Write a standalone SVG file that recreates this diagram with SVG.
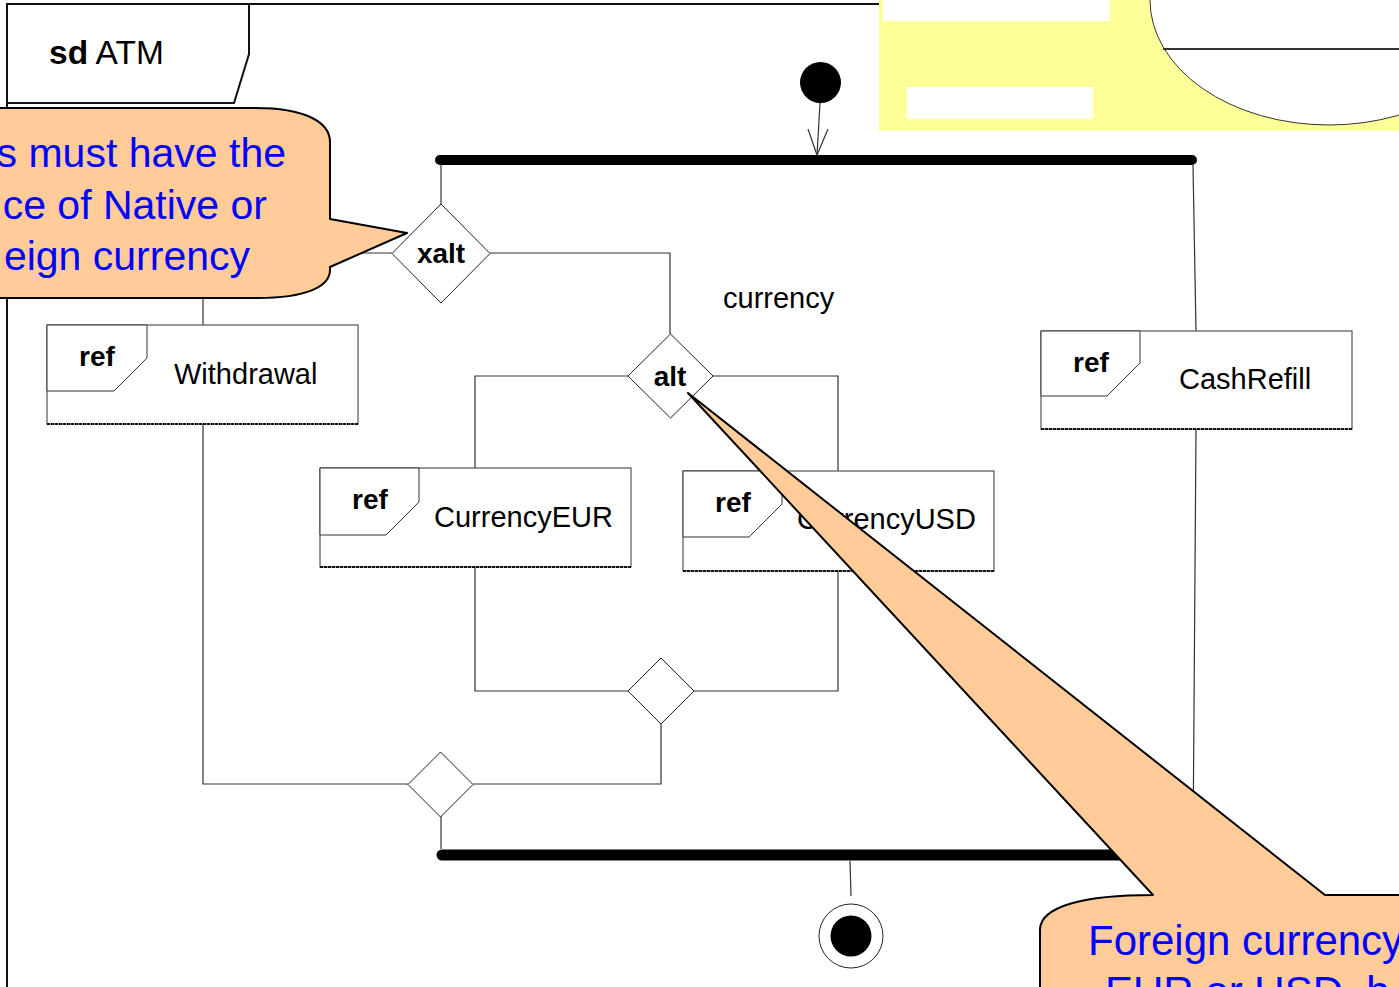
<svg xmlns="http://www.w3.org/2000/svg" width="1399" height="987" viewBox="0 0 1399 987">
<style>
text{font-family:"Liberation Sans",Arial,sans-serif}
.conn{fill:none;stroke:#333;stroke-width:1.2}
.box{fill:#fff;stroke:#555;stroke-width:1.2}
.tab{fill:#fff;stroke:#333;stroke-width:1}
.dash{stroke:#111;stroke-width:2;stroke-dasharray:3 1}
.kw{font-size:28px;font-weight:bold;fill:#000}
.name{font-size:29px;fill:#000}
.dia{fill:#fff;stroke:#222;stroke-width:1}
.bar{stroke:#000;stroke-linecap:round}
.note{fill:#FFCC99;stroke:#000;stroke-width:2;stroke-linejoin:round}
.ntext{font-size:41px;fill:#0000FF}
</style>
<rect width="1399" height="987" fill="#fff"/>
<g id="frame">
<path d="M7,987 V4 H880" fill="none" stroke="#111" stroke-width="2"/>
<path d="M7,4 H249 V54 L234,103 H7 Z" fill="#fff" stroke="#111" stroke-width="2"/>
<text x="49" y="64" style="font-size:33.5px"><tspan font-weight="bold">sd</tspan> ATM</text>
</g>
<g id="yellow-fragment">
<rect x="879" y="0" width="520" height="131" fill="#FFFF99"/>
<rect x="883" y="0" width="227" height="21" fill="#fff"/>
<rect x="907" y="87" width="186" height="32" fill="#fff"/>
<ellipse cx="1329" cy="0" rx="179" ry="125" fill="#fff" stroke="#333" stroke-width="1"/>
<line x1="1163" y1="49" x2="1399" y2="49" stroke="#333" stroke-width="2"/>
</g>
<g id="connectors">
<line class="conn" x1="820" y1="103" x2="817" y2="155"/>
<polyline class="conn" points="808,129 817,155 828,129"/>
<polyline class="conn" points="441,165 441,204"/>
<polyline class="conn" points="1193,165 1196,331"/>
<polyline class="conn" points="490,253 670,253 670,334"/>
<polyline class="conn" points="392,253 203,253 203,325"/>
<polyline class="conn" points="628,376 475,376 475,468"/>
<polyline class="conn" points="713,376 838,376 838,471"/>
<polyline class="conn" points="475,567 475,691 628,691"/>
<polyline class="conn" points="838,571 838,691 694,691"/>
<polyline class="conn" points="661,724 661,784 473,784"/>
<polyline class="conn" points="203,424 203,784 408,784"/>
<polyline class="conn" points="441,810 441,849"/>
<polyline class="conn" points="1196,429 1193,849"/>
<polyline class="conn" points="850,861 851,896"/>
</g>
<g id="initial"><circle cx="820.5" cy="82.5" r="20.5" fill="#000"/></g>
<g id="fork"><line class="bar" x1="440" y1="160" x2="1192" y2="160" stroke-width="10"/></g>
<g id="xalt">
<polygon class="dia" points="441,204 490,253.5 441,303 392,253.5"/>
<text class="kw" x="441" y="263" text-anchor="middle">xalt</text>
</g>
<g id="withdrawal">
<rect class="box" x="47" y="325" width="311" height="99"/>
<line class="dash" x1="47" y1="424" x2="358" y2="424"/>
<polygon class="tab" points="47,325 147,325 147,358 114,391 47,391"/>
<text class="kw" x="79" y="366">ref</text>
<text class="name" x="174" y="384">Withdrawal</text>
</g>
<g id="alt">
<polygon class="dia" points="670.5,334 713,376 670.5,418 628,376"/>
<text class="kw" x="670" y="386" text-anchor="middle">alt</text>
</g>
<g id="currencyEUR">
<rect class="box" x="320" y="468" width="311" height="99"/>
<line class="dash" x1="320" y1="567" x2="631" y2="567"/>
<polygon class="tab" points="320,468 419,468 419,502 386,535 320,535"/>
<text class="kw" x="352" y="509">ref</text>
<text class="name" x="434" y="527">CurrencyEUR</text>
</g>
<g id="currencyUSD">
<rect class="box" x="683" y="471" width="311" height="100"/>
<line class="dash" x1="683" y1="571" x2="994" y2="571"/>
<polygon class="tab" points="683,471 782,471 782,504 749,537 683,537"/>
<text class="kw" x="715" y="512">ref</text>
<text class="name" x="797" y="529">CurrencyUSD</text>
</g>
<g id="cashRefill">
<rect class="box" x="1041" y="331" width="311" height="98"/>
<line class="dash" x1="1041" y1="429" x2="1352" y2="429"/>
<polygon class="tab" points="1041,331 1140,331 1140,363 1107,396 1041,396"/>
<text class="kw" x="1073" y="372">ref</text>
<text class="name" x="1179" y="389">CashRefill</text>
</g>
<g id="mergeInner"><polygon class="dia" points="661,658 694,691 661,724 628,691"/></g>
<g id="mergeOuter"><polygon class="dia" points="440.5,752 473,784.5 440.5,817 408,784.5"/></g>
<g id="join"><line class="bar" x1="442" y1="855" x2="1193" y2="855" stroke-width="11"/></g>
<g id="final">
<circle cx="851" cy="936" r="32" fill="#fff" stroke="#222" stroke-width="1"/>
<circle cx="851" cy="936" r="20.5" fill="#000"/>
</g>
<text id="currency-label" class="name" x="723" y="308">currency</text>
<g id="note-left">
<path class="note" d="M-5,108 L255,108 C305,108 330,122 330,142 L330,219 L407,233 L330,267 L330,270 C330,287 305,298 258,298 L-5,298 Z"/>
<text class="ntext" x="286" y="167" text-anchor="end">s must have the</text>
<text class="ntext" x="267" y="219" text-anchor="end">ce of Native or</text>
<text class="ntext" x="250" y="270" text-anchor="end">eign currency</text>
</g>
<g id="note-right">
<path class="note" d="M1040,995 L1040,930 C1040,906 1085,895 1153,895 L688,393 L1325,895 L1405,895 L1405,995 Z"/>
<text class="ntext" x="1088" y="955" style="font-size:42px">Foreign currency</text>
<text class="ntext" x="1105" y="1006" style="font-size:42px">EUR or USD, b</text>
</g>
</svg>
